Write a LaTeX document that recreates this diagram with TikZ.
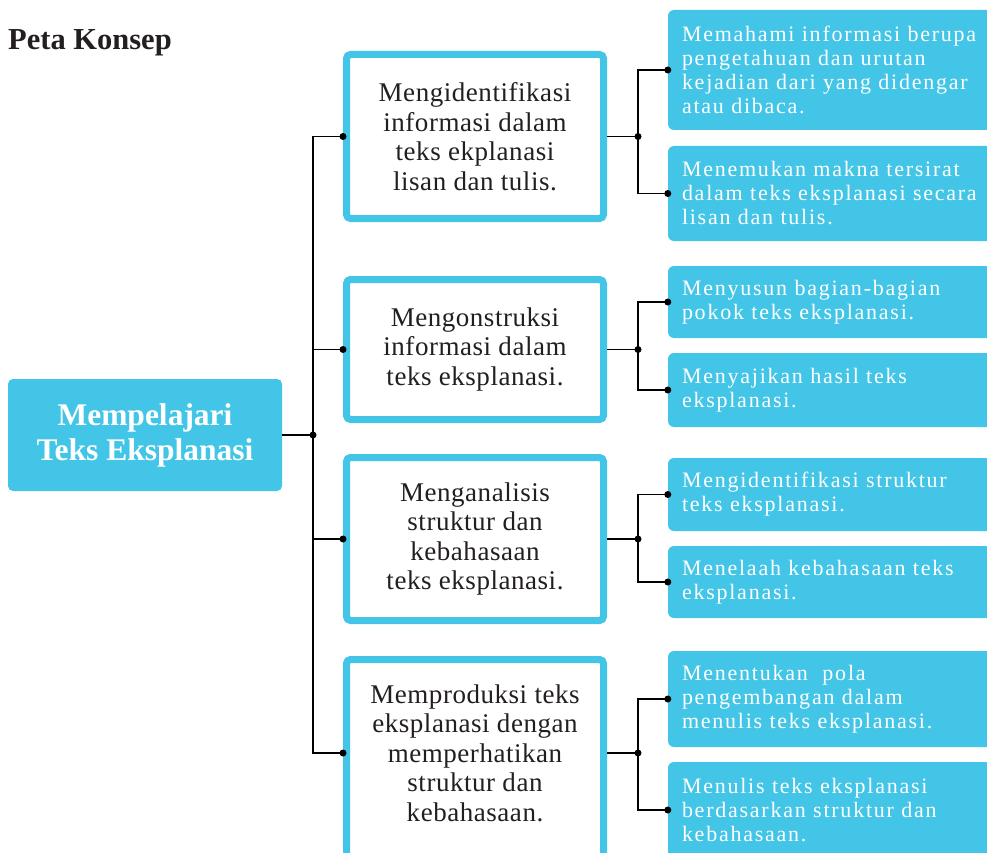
\documentclass[tikz,border=0pt]{standalone}
\usepackage{fontspec}
\setmainfont{Liberation Serif}
\newfontfamily\detailfamily[LetterSpace=8]{Liberation Serif}
\newfontfamily\topicfamily[LetterSpace=2]{Liberation Serif}
\newcommand{\detailfont}{\detailfamily\fontsize{22}{24}\selectfont}
\usetikzlibrary{positioning, calc}
\definecolor{konsepblue}{HTML}{42C5E6}
\definecolor{inkgray}{HTML}{231F20}

\tikzset{
  root/.style={fill=konsepblue, rounded corners=5pt, text=white, align=center,
    font=\fontsize{31.5}{35}\selectfont\bfseries, minimum width=274pt, minimum height=112pt},
  topic/.style={draw=konsepblue, line width=7pt, fill=white, rounded corners=4pt,
    text=inkgray, align=center, font=\topicfamily\fontsize{27}{29.5}\selectfont, minimum width=257pt},
  detail/.style={fill=konsepblue, rounded corners=6pt, text=white, align=left,
    font=\detailfont, text width=306pt, inner xsep=14pt},
  link/.style={line width=1.6pt, black},
  joint/.style={circle, fill=black, inner sep=0pt, minimum size=7pt},
}

\begin{document}
\begin{tikzpicture}[x=1pt, y=-1pt]
  \useasboundingbox (0,0) rectangle (987,853);
  \clip (0,0) rectangle (987,853);

  % Title
  \node[anchor=base west, inner sep=0pt, text=inkgray, font=\fontsize{30.5}{36}\selectfont\bfseries] (title) at (8,50) {Peta Konsep};

  % Main concept
  \node[root] (root) at (145,435) {Mempelajari\\Teks Eksplanasi};

  % Topics
  \node[topic, minimum height=164pt] (topic1) at (475,136.5) {Mengidentifikasi\\informasi dalam\\teks ekplanasi\\lisan dan tulis.};
  \node[topic, minimum height=140pt] (topic2) at (475,349.5) {Mengonstruksi\\informasi dalam\\teks eksplanasi.};
  \node[topic, minimum height=163pt] (topic3) at (475,539) {Menganalisis\\struktur dan\\kebahasaan\\teks eksplanasi.};
  \node[topic, minimum height=240pt] (topic4) at (475,779.5) {Memproduksi teks\\eksplanasi dengan\\memperhatikan\\struktur dan\\kebahasaan.\\[24pt]\mbox{}};

  % Details
  \node[detail, minimum height=120pt] (info1a) at (835,70) {Memahami informasi berupa\\pengetahuan dan urutan\\kejadian dari yang didengar\\atau dibaca.};
  \node[detail, minimum height=95pt] (info1b) at (835,193.5) {Menemukan makna tersirat\\dalam teks eksplanasi secara\\lisan dan tulis.};
  \node[detail, minimum height=72pt] (info2a) at (835,302) {Menyusun bagian-bagian\\pokok teks eksplanasi.};
  \node[detail, minimum height=74pt] (info2b) at (835,390) {Menyajikan hasil teks\\eksplanasi.};
  \node[detail, minimum height=73pt] (info3a) at (835,494.5) {Mengidentifikasi struktur\\teks eksplanasi.};
  \node[detail, minimum height=72pt] (info3b) at (835,582) {Menelaah kebahasaan teks\\eksplanasi.};
  \node[detail, minimum height=96pt] (info4a) at (835,699) {Menentukan\ \ pola\\pengembangan dalam\\menulis teks eksplanasi.};
  \node[detail, minimum height=96pt] (info4b) at (835,810) {Menulis teks eksplanasi\\berdasarkan struktur dan\\kebahasaan.};

  % Trunk
  \coordinate (hub) at (313,435);
  \coordinate (t1) at (topic1.west);
  \coordinate (t2) at (topic2.west);
  \coordinate (t3) at (topic3.west);
  \coordinate (t4) at ([yshift=26.5pt]topic4.west);
  \draw[link] (root.east) -- (hub);
  \foreach \i in {1,...,4}
    \draw[link] (hub) |- (t\i);
  \node[joint] (hubdot) at (hub) {};
  \foreach \i in {1,...,4}
    \node[joint] at (t\i) {};

  % Branches
  \coordinate (e1) at (topic1.east);
  \coordinate (e2) at (topic2.east);
  \coordinate (e3) at (topic3.east);
  \coordinate (e4) at ([yshift=26.5pt]topic4.east);
  \foreach \i in {1,...,4} {
    \coordinate (fork\i) at ([xshift=31pt]e\i);
    \draw[link] (e\i) -- (fork\i);
    \draw[link] (fork\i) |- (info\i a.west);
    \draw[link] (fork\i) |- (info\i b.west);
    \node[joint] at (fork\i) {};
    \node[joint] at (info\i a.west) {};
    \node[joint] at (info\i b.west) {};
  }
\end{tikzpicture}
\end{document}
